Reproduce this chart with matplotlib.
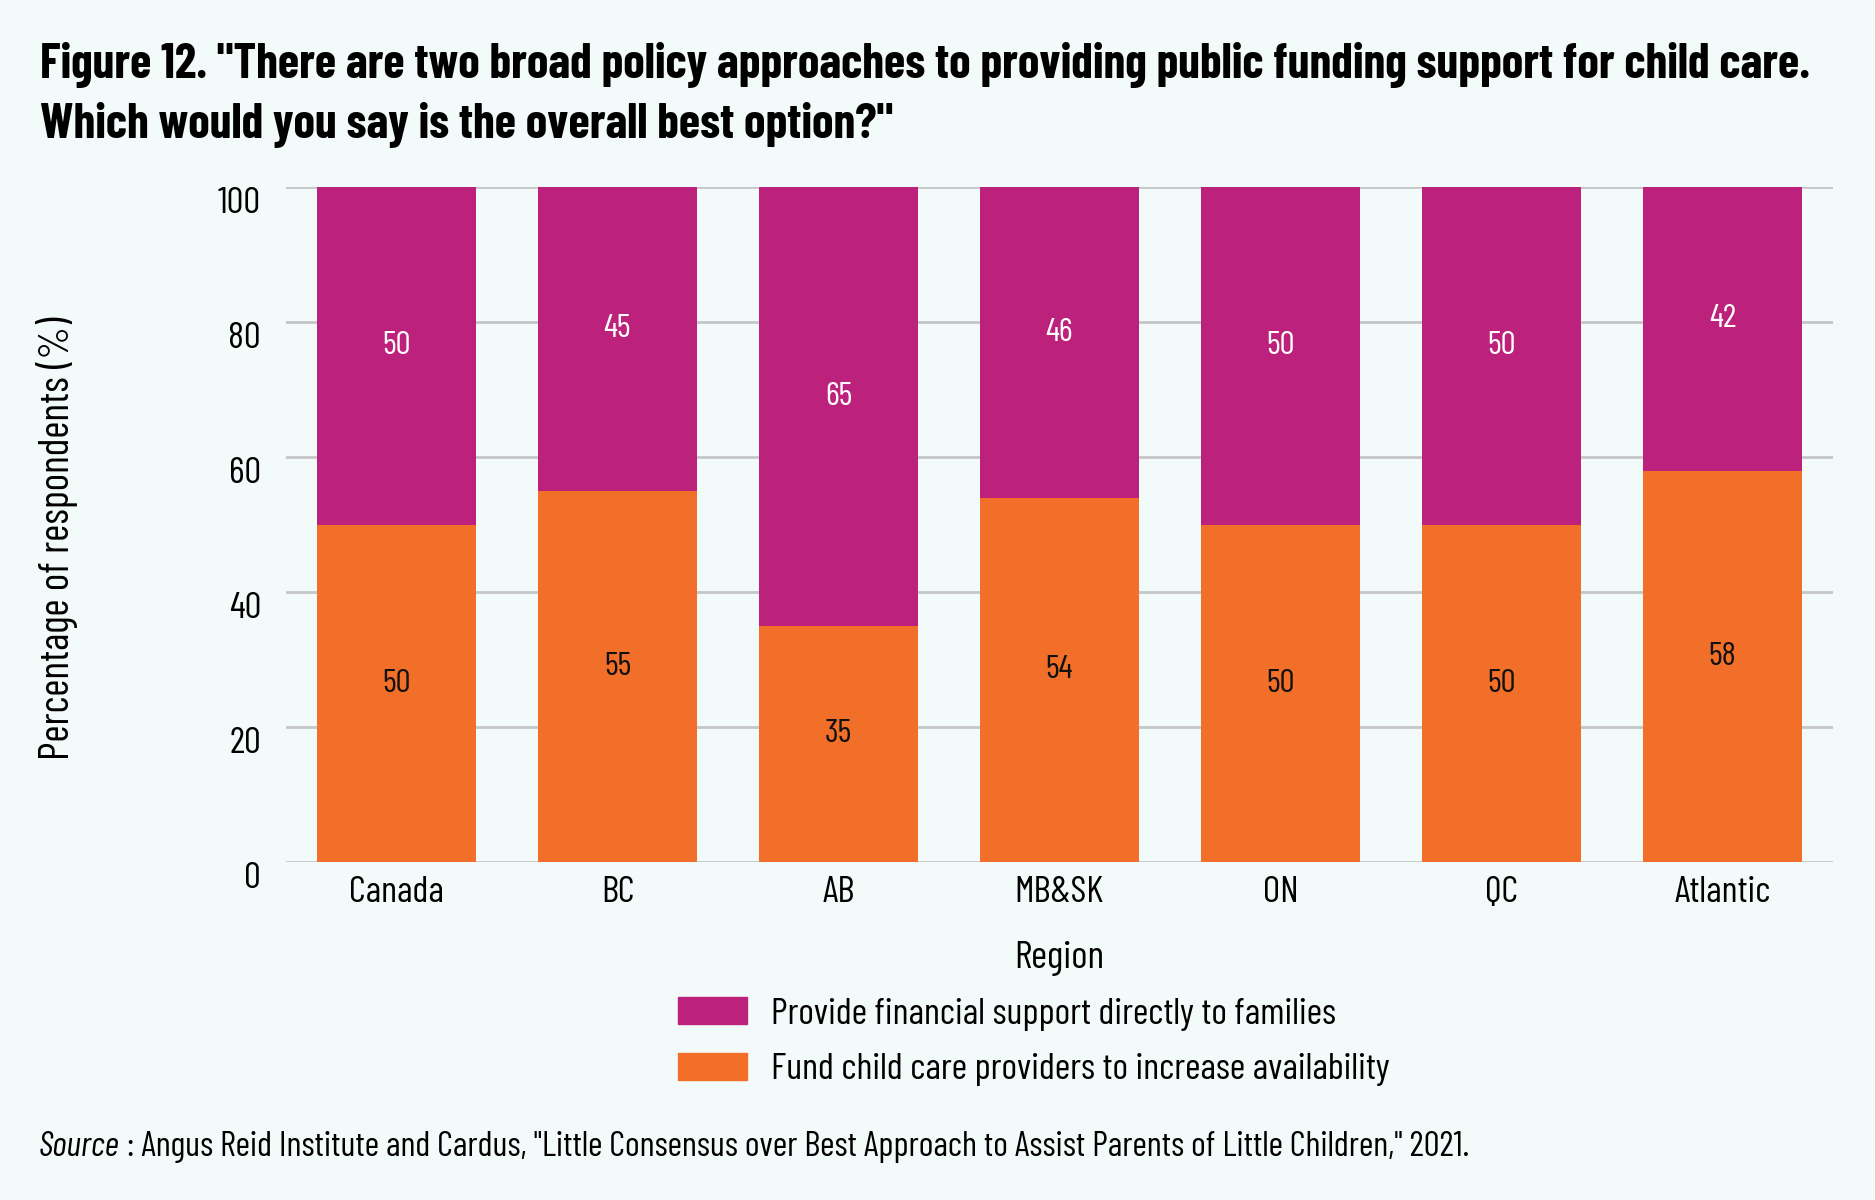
import numpy as np
import matplotlib
matplotlib.use('Agg')
import matplotlib.pyplot as plt
from matplotlib.patches import Patch

regions = ['Canada', 'BC', 'AB', 'MB&SK', 'ON', 'QC', 'Atlantic']
families = [50, 45, 65, 46, 50, 50, 42]     # Provide financial support directly to families
providers = [50, 55, 35, 54, 50, 50, 58]    # Fund child care providers to increase availability
yticks = [0, 20, 40, 60, 80, 100]
series_names = ['Provide financial support directly to families',
                'Fund child care providers to increase availability']

MAGENTA = '#BC217C'
ORANGE = '#F26F29'
BG = '#F3FBFA'

plt.rcParams['font.family'] = ['Barlow Condensed', 'DejaVu Sans']

fig = plt.figure(figsize=(18.75, 12), dpi=100, facecolor=BG)
ax = fig.add_axes([286/1875, 1-862/1200, (1833-286)/1875, (862-187)/1200])
ax.set_facecolor(BG)

x = np.arange(len(regions))
ax.bar(x, providers, width=0.72, color=ORANGE, zorder=3, label=series_names[1])
ax.bar(x, families, width=0.72, bottom=providers, color=MAGENTA, zorder=3, label=series_names[0])

# value labels, a little above the middle of each segment
for i in range(len(regions)):
    ax.annotate(str(providers[i]), (x[i], providers[i]/2), xytext=(0, 7), textcoords='offset points',
                ha='center', va='center', fontsize=24, color='#111111', zorder=4)
    ax.annotate(str(families[i]), (x[i], providers[i] + families[i]/2), xytext=(0, 7),
                textcoords='offset points', ha='center', va='center', fontsize=24, color='white', zorder=4)

ax.set_xlim(-0.5, 6.5)
ax.set_ylim(0, 100)
ax.set_yticks(yticks)
ax.yaxis.grid(True, color='#C4C6C8', linewidth=2, zorder=0)
ax.tick_params(length=0)
ax.tick_params(axis='y', labelsize=27, pad=18)
ax.tick_params(axis='x', labelsize=27, pad=10)
for lab in ax.get_yticklabels():
    lab.set_verticalalignment('top')
ax.set_xticks(x)
ax.set_xticklabels(regions)
for s in ax.spines.values():
    s.set_visible(False)

ax.set_xlabel('Region', fontsize=28, labelpad=23)
fig.text(57/1875, 1-538/1200, 'Percentage of respondents (%)', rotation=90, fontsize=30,
         ha='center', va='center')

fig.text(40/1875, 1-78/1200, 'Figure 12. "There are two broad policy approaches to providing public funding support for child care.',
         fontsize=35, fontweight='bold', ha='left', va='baseline')
fig.text(40/1875, 1-138/1200, 'Which would you say is the overall best option?"',
         fontsize=35, fontweight='bold', ha='left', va='baseline')

handles = [Patch(color=MAGENTA), Patch(color=ORANGE)]
fig.legend(handles, series_names, loc='upper left', bbox_to_anchor=(678/1875, 1-997/1200),
           frameon=False, fontsize=27, handlelength=1.85, handleheight=0.75,
           handletextpad=0.62, labelspacing=0.58, borderaxespad=0, borderpad=0)

src = fig.text(39/1875, 1-1163/1200, 'Source', fontsize=25.3, style='italic', ha='left', va='bottom')
fig.add_artist(plt.Annotation(' : Angus Reid Institute and Cardus, "Little Consensus over Best Approach to Assist Parents of Little Children," 2021.',
                              xy=(1, 0), xycoords=src, fontsize=25.3, ha='left', va='bottom',
                              annotation_clip=False))

fig.savefig('out.png', dpi=100, facecolor=BG)
